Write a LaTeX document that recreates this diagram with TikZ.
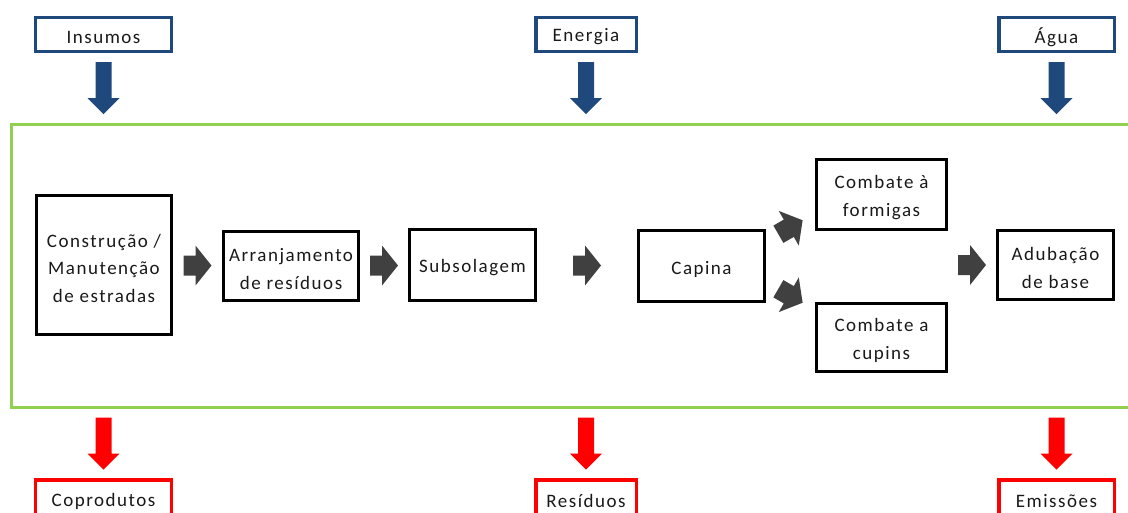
\documentclass[tikz,border=0pt]{standalone}
\usepackage{fontspec}
\setmainfont{Carlito}[LetterSpace=8]
\usetikzlibrary{calc}
\definecolor{inblue}{RGB}{31,73,125}
\definecolor{outred}{RGB}{255,0,0}
\definecolor{framegreen}{RGB}{146,208,80}
\definecolor{arrowgray}{RGB}{64,64,64}
\tikzset{
  txt/.style={font=\fontsize{19}{27.5}\selectfont, align=center, inner sep=0pt, text=black!90},
  inbox/.style={draw=inblue, line width=3.5pt, minimum height=34pt, inner sep=0pt},
  outbox/.style={txt, draw=outred, line width=3.5pt, minimum height=42pt},
  stepbox/.style={draw=black, line width=3pt, inner sep=0pt},
  intext/.style={txt, yshift=-2.5pt},
  steptext/.style={txt, yshift=-3pt},
  frame/.style={draw=framegreen, line width=3pt, inner sep=0pt},
  % block arrow pointing along +x, centred on its origin
  pics/flowarrow/.style={code={
    \fill[arrowgray] (-14,-10) -- (-2,-10) -- (-2,-20) -- (14,0) -- (-2,20) -- (-2,10) -- (-14,10) -- cycle;}},
  % vertical block arrow pointing down, centred on its origin
  pics/downarrow/.style={code={
    \fill[#1] (-8,-26) -- (8,-26) -- (8,10) -- (16,10) -- (0,26) -- (-16,10) -- (-8,10) -- cycle;}},
}
\begin{document}
\begin{tikzpicture}[x=1pt,y=-1pt]
\clip (0,0) rectangle (1128,512);

% process frame
\node[frame, minimum width=1126.5pt, minimum height=283pt] (frame) at (574.75,266) {};

% inputs
\node[inbox, minimum width=136pt,   label={[intext,name=inst]center:Insumos}] (ins) at (103.5,34.5) {};
\node[inbox, minimum width=100.5pt, label={[intext,name=enet]center:Energia}] (ene) at (586,34.5) {};
\node[inbox, minimum width=115.5pt, label={[intext,name=agut]center:Água}]    (agu) at (1056.5,34.5) {};

% outputs
\node[outbox, minimum width=136pt]   (cop) at (103.5,501)  {Coprodutos};
\node[outbox, minimum width=100.5pt] (res) at (586,501)    {Resíduos};
\node[outbox, minimum width=115.5pt] (emi) at (1056.5,501) {Emissões};

% process steps
\node[stepbox, minimum width=135pt, minimum height=139pt,
      label={[steptext,name=s1t]center:{Construção /\\Manutenção\\de estradas}}] (s1) at (104,265) {};
\node[stepbox, minimum width=135pt, minimum height=69pt,
      label={[steptext,name=s2t]center:{Arranjamento\\de resíduos}}] (s2) at (291,266) {};
\node[stepbox, minimum width=126pt, minimum height=71pt,
      label={[steptext,name=s3t]center:Subsolagem}] (s3) at (472.5,265) {};
\node[stepbox, minimum width=126pt, minimum height=71pt,
      label={[steptext,name=s4t]center:Capina}] (s4) at (701.5,266) {};
\node[stepbox, minimum width=130pt, minimum height=70pt,
      label={[steptext,name=s5t]center:{Combate à\\formigas}}] (s5) at (881.5,194.5) {};
\node[stepbox, minimum width=130pt, minimum height=68pt,
      label={[steptext,name=s6t]center:{Combate a\\cupins}}] (s6) at (881.5,337.5) {};
\node[stepbox, minimum width=116pt, minimum height=69pt,
      label={[steptext,name=s7t]center:{Adubação\\de base}}] (s7) at (1055.5,265) {};

% flow between steps
\pic at ($(s1.east)!0.5!(s2.west)$) {flowarrow};
\pic at ($(s2.east)!0.5!(s3.west)$) {flowarrow};
\pic at ($(s3.east)!0.5!(s4.west)$) {flowarrow};
\pic[rotate=30]  at ($(s4.east)!0.5!(s5.west)+(0,-3)$) {flowarrow};
\pic[rotate=-30] at ($(s4.east)!0.5!(s6.west)+(0,-6)$) {flowarrow};
\pic at ($(s5.east |- s7.west)!0.5!(s7.west)$) {flowarrow};

% inputs into and outputs out of the frame
\foreach \b in {ins,ene,agu}
  \pic at ($(\b.south)!0.5!(\b.south |- frame.north)$) {downarrow=inblue};
\foreach \b in {cop,res,emi}
  \pic at ($(\b.north)!0.5!(\b.north |- frame.south)$) {downarrow=outred};
\end{tikzpicture}
\end{document}
